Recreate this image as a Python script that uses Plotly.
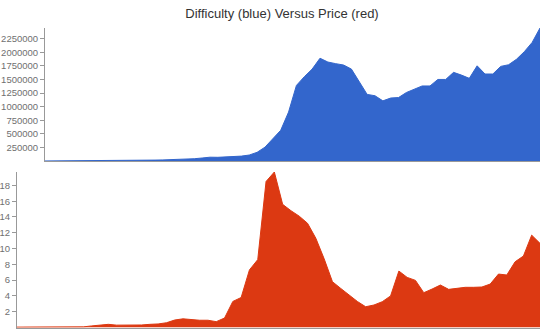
import plotly.graph_objects as go

# difficulty periods (index of each retarget period)
periods = list(range(64))

difficulty = [
    1000, 1200, 1500, 2000, 2500, 3000, 3500, 4500, 5500, 7000,
    9000, 11000, 13000, 15000, 17000, 20000, 24000, 28000, 34000, 42000,
    55000, 70000, 68000, 72000, 80000, 90000, 110000, 160000, 255000, 420000,
    565000, 900000, 1390000, 1550000, 1690000, 1890000, 1820000, 1790000, 1765000, 1690000,
    1460000, 1225000, 1200000, 1106000, 1158000, 1167000, 1260000, 1320000, 1380000, 1380000,
    1500000, 1500000, 1630000, 1580000, 1520000, 1750000, 1600000, 1600000, 1740000, 1770000,
    1870000, 2010000, 2180000, 2446000,
]

price = [
    0.05, 0.06, 0.06, 0.07, 0.07, 0.06, 0.06, 0.07, 0.08, 0.2,
    0.3, 0.4, 0.3, 0.28, 0.3, 0.32, 0.4, 0.45, 0.6, 0.95,
    1.1, 1.0, 0.92, 0.92, 0.74, 1.2, 3.3, 3.8, 7.3, 8.6,
    18.5, 19.7, 15.6, 14.8, 14.1, 13.2, 11.3, 8.7, 5.8, 4.95,
    4.1, 3.3, 2.63, 2.85, 3.27, 4.0, 7.15, 6.35, 5.97, 4.41,
    4.87, 5.38, 4.83, 4.96, 5.09, 5.09, 5.13, 5.5, 6.77, 6.65,
    8.33, 9.05, 11.7, 10.66,
]

diff_ticks = [250000, 500000, 750000, 1000000, 1250000, 1500000, 1750000, 2000000, 2250000]
price_ticks = [2, 4, 6, 8, 10, 12, 14, 16, 18]

BLUE = "#3366CC"
RED = "#DC3912"
W, H = 540, 334

fig = go.Figure()
fig.add_trace(go.Scatter(x=periods, y=difficulty, mode="lines", fill="tozeroy",
                         line=dict(color=BLUE, width=1), fillcolor=BLUE,
                         xaxis="x", yaxis="y", hoverinfo="skip"))
fig.add_trace(go.Scatter(x=periods, y=price, mode="lines", fill="tozeroy",
                         line=dict(color=RED, width=1), fillcolor=RED,
                         xaxis="x2", yaxis="y2", hoverinfo="skip"))

axis_common = dict(showgrid=False, zeroline=False, showline=True, linecolor="#999999",
                   linewidth=1)
tick_font = dict(family="Liberation Sans, Arial, sans-serif", size=9.5, color="#707070")

fig.update_layout(
    width=W, height=H,
    margin=dict(l=0, r=0, t=0, b=0),
    paper_bgcolor="white", plot_bgcolor="white",
    showlegend=False,
    title=dict(text="Difficulty (blue) Versus Price (red)", x=282 / W, xanchor="center",
               y=1 - 13 / H, yanchor="middle",
               font=dict(family="Liberation Sans, Arial, sans-serif", size=13, color="#333333")),
    xaxis=dict(domain=[45 / W, 1], range=[0, 63], showticklabels=False, ticks="",
               anchor="y", **axis_common),
    yaxis=dict(domain=[1 - 161 / H, 1 - 28 / H], range=[0, 2446000], tickvals=diff_ticks,
               tickformat="d", ticks="outside", ticklen=4, tickcolor="#999999",
               tickfont=tick_font, anchor="x", **axis_common),
    xaxis2=dict(domain=[17 / W, 1], range=[0, 63], showticklabels=False, ticks="",
                anchor="y2", **axis_common),
    yaxis2=dict(domain=[1 - 327.5 / H, 1 - 172 / H], range=[0, 19.7], tickvals=price_ticks,
                tickformat="d", ticks="outside", ticklen=4, tickcolor="#999999",
                tickfont=tick_font, anchor="x2", **axis_common),
)

fig.write_html("out.html")
